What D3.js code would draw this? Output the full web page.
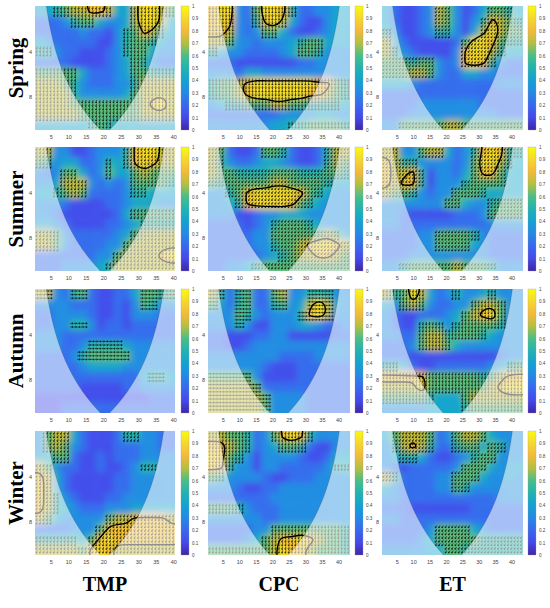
<!DOCTYPE html>
<html><head><meta charset="utf-8">
<script src="https://cdn.jsdelivr.net/npm/d3@7"></script>
<style>body{margin:0;background:#fff}svg{display:block}</style>
</head><body><svg id="c" width="550" height="608"></svg>
<script>
// ---------- data ----------
const seasons = ["Spring", "Summer", "Autumn", "Winter"];
const variables = ["TMP", "CPC", "ET"];
const seriesLength = [40, 43, 43];
const xTicks = [5, 10, 15, 20, 25, 30, 35, 40];
const yTicks = [4, 8];
const colorbarTicks = [0, 0.1, 0.2, 0.3, 0.4, 0.5, 0.6, 0.7, 0.8, 0.9, 1];
const periodRange = [2, 13.3];
const coiFactor = 0.73;
// coherence grids: 12 period rows (short -> long) x 16 time columns,
// digit d = coherence decile, i.e. coherence ~ (d + 0.2) / 10
const springTMP = ["4456778874479976","2223566433479974","2222232213568754","4322222113566543","5532211123566433","2222111123465322","6666642223466555","7776532223357777","7777533333467777","7777666666667897","7777766666667777","4444445654444444"];
const springCPC = ["8993269985223344","8983258974211344","8873236642112344","7763323334566444","5433222234665333","2221111111223333","3332443333333333","5667899999998865","5667899999988765","3455666776655554","2222222233334433","3333333445566665"];
const springET  = ["4211237631246654","4211237631358765","5311235531479766","7421111126998655","7532111138997544","6665663238985322","6667763224433222","4443222222222333","2222222222222222","2222333333322222","2223333333333222","3366666776666666"];
const summerTMP = ["7733112333589977","6534422354589877","3236642364467666","3347773232366665","4456762222355444","3332111122344433","3321111112466666","4432111122345555","7763222223467777","7763222233677777","2222222336777789","2223333457777777"];
const summerCPC = ["7621126652112577","7532234432112576","7665555666555665","6566666776666544","3356899999865433","3345899998654333","3331123344433333","2222123566654333","2222233666666764","2222233566789987","2222223456778876","2233456666666666"];
const summerET  = ["7733677423589855","8755333323699754","8778513324688644","8788513335666644","7665323366654444","3333333664335666","3321111122236666","3322222222223333","2222336666532222","2222336666432222","2223333333332222","3356666676665333"];
const autumnTMP = ["7732562112246656","3333222112136533","2233332112133322","2233553122122222","3332222222222222","3332235555433333","2222356666633333","2222234444333333","2222222222224554","2222211111223333","1111111111111222","1112222222222222"];
const autumnCPC = ["7525622673355533","6425622563479743","3336532333589733","3335311333443223","2211122331111122","2211233333333333","3333333322223333","3333332111222222","6666631111222222","7777762222222222","7777776333322222","7777776333322222"];
const autumnET  = ["7569742353345333","4367632233677633","3211222346789633","3211565356666533","3322677566654333","2223677643333333","2221111111111233","5542112222223456","8888866666656788","7777966666667899","6666654446777777","3333344445666666"];
const winterTMP = ["3677421112553322","3676321112223322","4466211212223333","7632211211235533","8742111112233333","8742111112233333","8753211122333333","8754322233344444","7643333367788887","2222333688888888","5555546898888888","7777768987777777"];
const winterCPC = ["7766523689853333","8876523466521133","9865313333211244","8853313322222355","6533332112223333","3332112233333333","2222222333333333","6665322233333333","3333332233333333","2222233666666665","2222346788987665","6666666798876665"];
const winterET  = ["4677762367764333","3578752256646533","3455421123566333","3212222236664344","7522223366643343","4322223365333333","3322222222222333","2221111111222222","3322222222222222","2222236666432222","2222346666655555","3333344665555555"];
// dominant phase-arrow direction per panel (degrees, screen orientation)
const arrowAngles = [[100, 90, 120], [110, 120, 120], [0, 0, 100], [110, 100, 120]];

const panels = [
  [springTMP, springCPC, springET],
  [summerTMP, summerCPC, summerET],
  [autumnTMP, autumnCPC, autumnET],
  [winterTMP, winterCPC, winterET]
];

// ---------- layout / style ----------
const colX = [[35, 175], [208, 350], [382, 523]];
const cbX = [181, 355, 528];
const cbW = 8;
const rowY = [6, 147, 289, 431];
const panelH = 124;
const contourLevel = 0.77;
const arrowLevel = 0.5;

const parulaStops = [0, 0.1, 0.2, 0.3, 0.4, 0.5, 0.6, 0.7, 0.8, 0.9, 1];
const parulaColors = ["#3e26a8", "#4549ea", "#3967ef", "#2489e6", "#13a2d2", "#21b3b2", "#49be8a", "#b4bf40", "#f3ba3a", "#f5d72c", "#f9fb0e"];
const color = d3.scaleLinear().domain(parulaStops).range(parulaColors).clamp(true);

const svg = d3.select("#c");
const defs = svg.append("defs");
defs.append("filter").attr("id", "blur")
  .attr("x", "-20%").attr("y", "-20%").attr("width", "140%").attr("height", "140%")
  .append("feGaussianBlur").attr("stdDeviation", 3);
const grad = defs.append("linearGradient").attr("id", "parula")
  .attr("x1", 0).attr("y1", 1).attr("x2", 0).attr("y2", 0);
parulaStops.forEach((s, i) => grad.append("stop").attr("offset", s).attr("stop-color", parulaColors[i]));

const smoothLine = d3.line().curve(d3.curveBasisClosed);
const fmt = v => v.toFixed(2);

seasons.forEach((season, r) => {
  variables.forEach((v, c) => {
    const [x0, x1] = colX[c];
    const y0 = rowY[r], y1 = y0 + panelH;
    const n = seriesLength[c];
    const grid = panels[r][c].map(s => s.split("").map(ch => (+ch + 0.2) / 10));
    const NR = grid.length, NC = grid[0].length;
    const get = (i, j) => grid[Math.max(0, Math.min(NR - 1, j))][Math.max(0, Math.min(NC - 1, i))];
    const cx = d3.scaleLinear().domain([0, NC]).range([x0, x1]);
    const cy = d3.scaleLinear().domain([0, NR]).range([y0, y1]);
    const xs = d3.scaleLinear().domain([0.5, n + 0.5]).range([x0, x1]);
    const ys = d3.scaleLog().base(2).domain(periodRange).range([y0, y1]);

    const clipId = `clip${r}${c}`;
    defs.append("clipPath").attr("id", clipId)
      .append("rect").attr("x", x0).attr("y", y0).attr("width", x1 - x0).attr("height", y1 - y0);
    const g = svg.append("g").attr("clip-path", `url(#${clipId})`);

    // heat cells (padded by one cell, blurred)
    const cells = [];
    for (let j = -1; j <= NR; j++) for (let i = -1; i <= NC; i++) cells.push({ i, j, v: get(i, j) });
    g.append("g").attr("filter", "url(#blur)")
      .selectAll("rect").data(cells).join("rect")
      .attr("x", d => cx(d.i)).attr("y", d => cy(d.j))
      .attr("width", cx(1) - cx(0) + 0.6).attr("height", cy(1) - cy(0) + 0.6)
      .attr("fill", d => color(d.v));

    // phase arrows where coherence >= 0.5
    const cw = cx(1) - cx(0), ch = cy(1) - cy(0);
    const a = arrowAngles[r][c] * Math.PI / 180;
    const ux = Math.cos(a), uy = Math.sin(a), vx = -uy, vy = ux;
    const L = 1.45, H = 1.1, W = 0.85;
    let pth = "";
    for (let t = 1; t <= n; t++) {
      const px = xs(t);
      for (let py = y0 + 2; py < y1; py += 3.6) {
        const i = Math.floor((px - x0) / cw), j = Math.floor((py - y0) / ch);
        if (get(i, j) >= arrowLevel) {
          const tx = px + L * ux, ty = py + L * uy;
          pth += `M${fmt(px - L * ux)},${fmt(py - L * uy)}L${fmt(tx)},${fmt(ty)}`;
          pth += `M${fmt(tx - H * ux + W * vx)},${fmt(ty - H * uy + W * vy)}L${fmt(tx)},${fmt(ty)}L${fmt(tx - H * ux - W * vx)},${fmt(ty - H * uy - W * vy)}`;
        }
      }
    }
    g.append("path").attr("d", pth).attr("fill", "none").attr("stroke", "#000").attr("stroke-width", 0.6);

    // significance-like contours
    const vals = [];
    for (let j = -1; j <= NR; j++) for (let i = -1; i <= NC; i++) vals.push(get(i, j));
    const cs = d3.contours().size([NC + 2, NR + 2]).thresholds([contourLevel])(vals);
    cs.forEach(mp => mp.coordinates.forEach(poly => poly.forEach(ring => {
      const pts = ring.slice(0, -1).map(([X, Y]) => [cx(X - 1), cy(Y - 1)]);
      g.append("path").attr("d", smoothLine(pts)).attr("fill", "none")
        .attr("stroke", "#000").attr("stroke-width", 1.4);
    })));

    // cone of influence
    const cone = [];
    for (let t = 1; t <= n + 1e-9; t += 0.05) {
      const d = Math.min(t - 1, n - t);
      const p = coiFactor * d;
      let yy = p <= periodRange[0] ? y0 - 2 : ys(p);
      yy = Math.max(y0 - 2, Math.min(y1 + 2, yy));
      cone.push([xs(t), yy]);
    }
    const coneLine = "M" + cone.map(p => fmt(p[0]) + "," + fmt(p[1])).join("L");
    g.append("path")
      .attr("d", `M${x0},${y0 - 3}H${x1}V${y1 + 3}H${x0}Z` + coneLine + "Z")
      .attr("fill", "#fff").attr("fill-opacity", 0.56).attr("fill-rule", "evenodd");
    g.append("path").attr("d", coneLine)
      .attr("fill", "none").attr("stroke", "#333").attr("stroke-opacity", 0.35).attr("stroke-width", 0.6);

    // axes
    const ax = svg.append("g").attr("transform", `translate(0,${y1})`)
      .call(d3.axisBottom(xs).tickValues(xTicks).tickSize(0).tickPadding(5));
    ax.select(".domain").remove();
    ax.selectAll("text").attr("font-size", 5.5).attr("fill", "#444").attr("font-family", "Arial, Liberation Sans, sans-serif");
    const ay = svg.append("g").attr("transform", `translate(${x0},0)`)
      .call(d3.axisLeft(ys).tickValues(yTicks).tickFormat(d3.format("d")).tickSize(0).tickPadding(3));
    ay.select(".domain").remove();
    ay.selectAll("text").attr("font-size", 5.5).attr("fill", "#444").attr("font-family", "Arial, Liberation Sans, sans-serif");

    // colorbar
    svg.append("rect").attr("x", cbX[c]).attr("y", y0).attr("width", cbW).attr("height", y1 - y0)
      .attr("fill", "url(#parula)").attr("stroke", "#999").attr("stroke-width", 0.3);
    const cs2 = d3.scaleLinear().domain([0, 1]).range([y1, y0]);
    const cb = svg.append("g").attr("transform", `translate(${cbX[c] + cbW},0)`)
      .call(d3.axisRight(cs2).tickValues(colorbarTicks).tickFormat(d3.format("~g")).tickSize(0).tickPadding(3));
    cb.select(".domain").remove();
    cb.selectAll("text").attr("font-size", 4.6).attr("fill", "#444").attr("font-family", "Arial, Liberation Sans, sans-serif");
  });

  svg.append("text")
    .attr("transform", `translate(23,${rowY[r] + panelH / 2}) rotate(-90)`)
    .attr("text-anchor", "middle")
    .attr("font-family", "Liberation Serif, Times New Roman, serif")
    .attr("font-weight", "bold").attr("font-size", 21).attr("fill", "#000")
    .text(season);
});

variables.forEach((v, c) => {
  svg.append("text")
    .attr("x", (colX[c][0] + colX[c][1]) / 2).attr("y", 591)
    .attr("text-anchor", "middle")
    .attr("font-family", "Liberation Serif, Times New Roman, serif")
    .attr("font-weight", "bold").attr("font-size", 20).attr("fill", "#000")
    .text(v);
});
</script>
</body></html>
